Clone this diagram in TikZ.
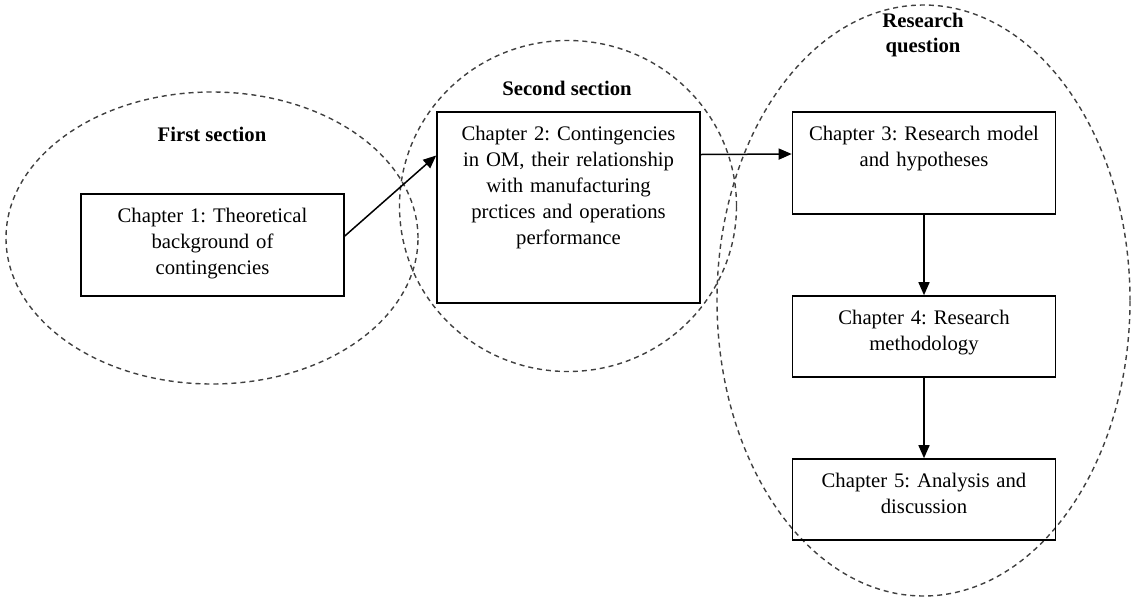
\documentclass[tikz,border=0pt]{standalone}
\usepackage{fontspec}
\setmainfont{Liberation Serif}
\usepackage{tikz}
\usetikzlibrary{shapes.geometric}
\usetikzlibrary{arrows.meta}
\usetikzlibrary{positioning}
\tikzstyle{line} = [draw, line width=1.5pt, -{Triangle[length=13pt,width=11pt]}]
\definecolor{dashgray}{rgb}{0.25,0.25,0.25}
\frenchspacing

\begin{document}
\begin{tikzpicture}[x=1pt, y=-1pt,
				zone/.style = {ellipse, draw=dashgray, line width=1.4pt,
					dash pattern=on 5pt off 4pt, inner sep=0pt},
				chapter/.style = {rectangle, draw, line width=1.6pt,
					align=center, text width=263pt, inner sep=0pt,
					text height=28pt, font=\fontsize{20.7}{26}\selectfont},
				sectitle/.style = {align=center,
					font=\fontsize{20.7}{25}\selectfont\bfseries}]
				\useasboundingbox (0,0) rectangle (1133,598);
				
				% Sections
				\node[zone, minimum width=412pt, minimum height=292pt] (S1) at (212,238) {};
				\node[zone, minimum width=337pt, minimum height=331pt] (S2) at (568,206) {};
				\node[zone, minimum width=413pt, minimum height=591pt] (S3) at (923.5,300.5) {};
				
				% Section titles
				\node[sectitle] (T1) at (212,134) {First section};
				\node[sectitle] (T2) at (567,88) {Second section};
				\node[sectitle] (T3) at (923,35) {Research\\ question};
				
				% Chapters
				\node[chapter, text depth=74pt] (C1) at (212.5,245) {Chapter 1: Theoretical\\ background of\\ contingencies};
				\node[chapter, text depth=163pt] (C2) at (568.5,207.5) {Chapter 2: Contingencies\\ in OM, their relationship\\ with manufacturing\\ prctices and operations\\ performance};
				\node[chapter, text depth=74pt] (C3) at (924,163) {Chapter 3: Research model\\ and hypotheses};
				\node[chapter, text depth=53pt] (C4) at (924,336.5) {Chapter 4: Research\\ methodology};
				\node[chapter, text depth=53pt] (C5) at (924,499.5) {Chapter 5: Analysis and\\ discussion};
				
				% Arrows
				\path[line] ([yshift=9pt]C1.east) -- ([yshift=52pt]C2.west);
				\path[line] ([yshift=53pt]C2.east) -- ([yshift=9pt]C3.west);
				\path[line] (C3.south) -- (C4.north);
				\path[line] (C4.south) -- (C5.north);
				
		\end{tikzpicture}
\end{document}
